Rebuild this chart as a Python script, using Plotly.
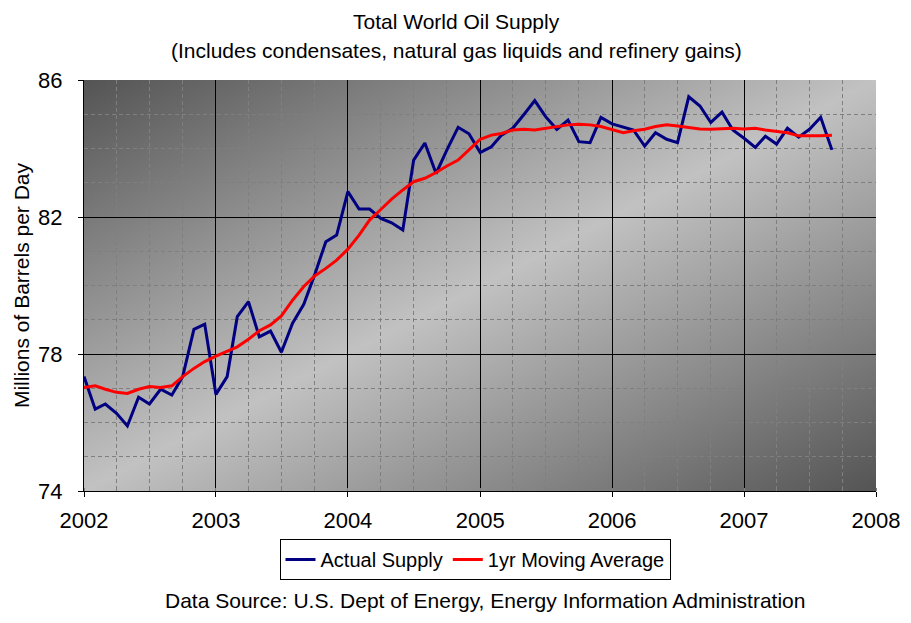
import base64
import struct
import zlib

import pandas as pd
import plotly.graph_objects as go

# ---------------- data ----------------
months = pd.date_range("2002-01-01", periods=69, freq="MS")

actual_supply = [
    77.34, 76.39, 76.54, 76.27, 75.90, 76.74, 76.54, 76.97, 76.80, 77.34, 78.72, 78.87,  # 2002
    76.82, 77.34, 79.09, 79.53, 78.50, 78.67, 78.05, 78.90, 79.45, 80.31, 81.28, 81.47,  # 2003
    82.74, 82.23, 82.23, 81.96, 81.83, 81.62, 83.66, 84.16, 83.27, 83.96, 84.62, 84.43,  # 2004
    83.88, 84.05, 84.39, 84.59, 84.98, 85.40, 84.93, 84.56, 84.83, 84.20, 84.17, 84.91,  # 2005
    84.72, 84.62, 84.54, 84.07, 84.46, 84.27, 84.17, 85.51, 85.24, 84.76, 85.06, 84.54,  # 2006
    84.30, 84.03, 84.36, 84.13, 84.59, 84.33, 84.56, 84.91, 83.96,                       # 2007
]

moving_average = [
    77.02, 77.07, 76.97, 76.88, 76.85, 76.97, 77.05, 77.02, 77.07, 77.34, 77.58, 77.78,  # 2002
    77.94, 78.07, 78.21, 78.43, 78.68, 78.85, 79.11, 79.57, 79.97, 80.28, 80.50, 80.74,  # 2003
    81.06, 81.47, 81.91, 82.22, 82.52, 82.79, 83.03, 83.13, 83.30, 83.49, 83.66, 83.96,  # 2004
    84.27, 84.39, 84.44, 84.54, 84.56, 84.54, 84.59, 84.64, 84.69, 84.71, 84.69, 84.64,  # 2005
    84.54, 84.46, 84.52, 84.56, 84.64, 84.69, 84.66, 84.62, 84.57, 84.56, 84.57, 84.59,  # 2006
    84.57, 84.59, 84.54, 84.49, 84.46, 84.37, 84.36, 84.37, 84.39,                       # 2007
]

series_names = ["Actual Supply", "1yr Moving Average"]
title_lines = ["Total World Oil Supply",
               "(Includes condensates, natural gas liquids and refinery gains)"]
y_title = "Millions of Barrels per Day"
source_text = "Data Source: U.S. Dept of Energy, Energy Information Administration"

FONT = "Liberation Sans, Arial, sans-serif"
TXT = 21


# ---------------- gradient background (diagonal, dark-light-dark) ----------------
def gradient_png(w, h, dark=85, light=194):
    rows = []
    for j in range(h):
        wv = j / (h - 1)
        row = bytearray([0])
        for i in range(w):
            u = i / (w - 1)
            s = (u + wv) / 2.0
            t = 1 - abs(2 * s - 1)
            row.append(int(round(dark + (light - dark) * t)))
        rows.append(bytes(row))
    raw = b"".join(rows)

    def chunk(tag, data):
        c = struct.pack(">I", len(data)) + tag + data
        return c + struct.pack(">I", zlib.crc32(tag + data) & 0xFFFFFFFF)

    png = b"\x89PNG\r\n\x1a\n"
    png += chunk(b"IHDR", struct.pack(">IIBBBBB", w, h, 8, 0, 0, 0, 0))
    png += chunk(b"IDAT", zlib.compress(raw, 9))
    png += chunk(b"IEND", b"")
    return "data:image/png;base64," + base64.b64encode(png).decode()


bg_src = gradient_png(264, 137)

# ---------------- figure ----------------
fig = go.Figure()
fig.add_trace(go.Scatter(
    x=months, y=actual_supply, mode="lines", name=series_names[0],
    line=dict(color="#000080", width=3),
))
fig.add_trace(go.Scatter(
    x=months, y=moving_average, mode="lines", name=series_names[1],
    line=dict(color="#ff0000", width=3),
))

fig.add_layout_image(dict(
    source=bg_src, xref="paper", yref="paper", x=0, y=1, sizex=1, sizey=1,
    xanchor="left", yanchor="top", sizing="stretch", layer="below",
))

fig.update_xaxes(
    type="date", range=["2002-01-01", "2008-01-01"],
    tick0="2002-01-01", dtick="M12", tickformat="%Y",
    showline=True, linecolor="black", linewidth=1,
    ticks="outside", ticklen=5, tickcolor="black",
    ticklabelstandoff=5,
    showgrid=True, gridcolor="black", gridwidth=1,
    tickfont=dict(family=FONT, size=22, color="black"),
    minor=dict(dtick="M3", showgrid=True, gridcolor="#7f7f7f",
               griddash="4px,3px", gridwidth=1,
               ticks="inside", ticklen=3, tickcolor="#7f7f7f"),
    zeroline=False,
)
fig.update_yaxes(
    range=[74, 86], dtick=4, tick0=74,
    showline=True, linecolor="black", linewidth=1,
    ticks="outside", ticklen=5, tickcolor="black",
    ticklabelstandoff=11,
    showgrid=True, gridcolor="black", gridwidth=1,
    tickfont=dict(family=FONT, size=22, color="black"),
    title=dict(text=y_title, font=dict(family=FONT, size=TXT, color="black"),
               standoff=2),
    minor=dict(dtick=1, showgrid=True, gridcolor="#7f7f7f",
               griddash="4px,3px", gridwidth=1),
    zeroline=False,
)

annotations = [
    dict(text=title_lines[0], x=(456 - 84) / 792, y=(491 - 22) / 411,
         xref="paper", yref="paper", showarrow=False,
         xanchor="center", yanchor="middle",
         font=dict(family=FONT, size=TXT, color="black")),
    dict(text=title_lines[1], x=(456 - 84) / 792, y=(491 - 50) / 411,
         xref="paper", yref="paper", showarrow=False,
         xanchor="center", yanchor="middle",
         font=dict(family=FONT, size=TXT, color="black")),
    dict(text=source_text, x=(485 - 84) / 792, y=(491 - 600) / 411,
         xref="paper", yref="paper", showarrow=False,
         xanchor="center", yanchor="middle",
         font=dict(family=FONT, size=TXT, color="black")),
]

fig.update_layout(
    width=911, height=623,
    margin=dict(l=84, r=35, t=80, b=132),
    paper_bgcolor="white", plot_bgcolor="rgba(0,0,0,0)",
    showlegend=True,
    legend=dict(
        orientation="h", x=(475 - 84) / 792, xanchor="center",
        y=(491 - 539) / 411, yanchor="top",
        bgcolor="white", bordercolor="black", borderwidth=1,
        font=dict(family=FONT, size=20, color="black"),
        itemwidth=30,
    ),
    annotations=annotations,
    font=dict(family=FONT, color="black"),
)

fig.write_html("out.html", config={"displayModeBar": False},
               post_script="document.body.style.margin='0';")
